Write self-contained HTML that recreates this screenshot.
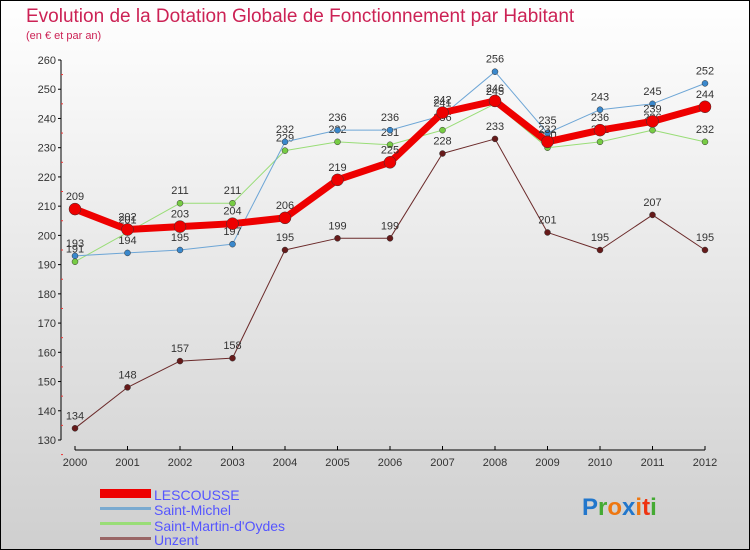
<!DOCTYPE html>
<html><head><meta charset="utf-8"><style>
body{margin:0}
#c{width:750px;height:550px;position:relative;overflow:hidden;font-family:"Liberation Sans",sans-serif}
</style></head><body>
<div id="c">
<svg id="s" width="750" height="550" xmlns="http://www.w3.org/2000/svg">
<defs><linearGradient id="bg" x1="0" y1="0" x2="0" y2="1"><stop offset="0" stop-color="#ffffff"/><stop offset="1" stop-color="#cfcfcf"/></linearGradient></defs>
<rect x="0.5" y="0.5" width="749" height="549" fill="url(#bg)" stroke="#000"/>
<text x="26" y="22" font-size="19" fill="#cc2255">Evolution de la Dotation Globale de Fonctionnement par Habitant</text>
<text x="26" y="39" font-size="11" fill="#cc2255">(en € et par an)</text>
<g id="axes"></g><g id="series"></g>
<g>
<rect x="100" y="489" width="51" height="9" fill="#ee0000"/>
<text x="154" y="500" font-size="14" fill="#5555ff">LESCOUSSE</text>
<rect x="100" y="507" width="51" height="3" fill="#7aaad0"/>
<text x="154" y="515" font-size="14" fill="#5555ff">Saint-Michel</text>
<rect x="100" y="522" width="51" height="3" fill="#99dd77"/>
<text x="154" y="531" font-size="14" fill="#5555ff">Saint-Martin-d'Oydes</text>
<rect x="100" y="537" width="51" height="3" fill="#996666"/>
<text x="154" y="545" font-size="14" fill="#5555ff">Unzent</text>
</g>
<text x="582" y="515" font-size="24" font-weight="bold"><tspan fill="#2277cc">P</tspan><tspan fill="#44aa33">r</tspan><tspan fill="#ee7711">o</tspan><tspan fill="#2277cc">x</tspan><tspan fill="#ee7711">i</tspan><tspan fill="#ee3311">t</tspan><tspan fill="#44aa33">i</tspan></text>
</svg>
</div>
<script>
const years=[2000,2001,2002,2003,2004,2005,2006,2007,2008,2009,2010,2011,2012];
const yTicks=[130,140,150,160,170,180,190,200,210,220,230,240,250,260];
const lescousse=[209,202,203,204,206,219,225,242,246,232,236,239,244];
const saintMichel=[193,194,195,197,232,236,236,241,256,235,243,245,252];
const saintMartin=[191,201,211,211,229,232,231,236,245,230,232,236,232];
const unzent=[134,148,157,158,195,199,199,228,233,201,195,207,195];
const NS="http://www.w3.org/2000/svg";
const xs=i=>75+i*52.5;
const ys=v=>440-(v-130)*(380/130);
function mk(tag,at,parent){const e=document.createElementNS(NS,tag);for(const k in at)e.setAttribute(k,at[k]);parent.appendChild(e);return e;}
const ax=document.getElementById('axes');
let yl=mk('line',{x1:61,y1:60,x2:61,y2:440,stroke:'#000'},ax);


yTicks.forEach(t=>{const y=ys(t);
mk('line',{x1:58,y1:y,x2:61,y2:y,stroke:'#000'},ax);
mk('line',{x1:61,y1:y+14.6,x2:63,y2:y+14.6,stroke:'#e33'},ax);
const tx=mk('text',{x:56,y:y+4,'font-size':11,'text-anchor':'end',fill:'#333'},ax);tx.textContent=t;

});
let xl=mk('line',{x1:75,y1:450,x2:705,y2:450,stroke:'#000'},ax);


years.forEach((yr,i)=>{const x=xs(i);
mk('line',{x1:x,y1:446,x2:x,y2:450,stroke:'#000'},ax);
const tx=mk('text',{x:x,y:466,'font-size':11,'text-anchor':'middle',fill:'#333'},ax);tx.textContent=yr;

});
const sg=document.getElementById('series');
function draw(data,name,color,dot,w,r){
const g=mk('g',{},sg);


const pl=mk('polyline',{points:data.map((v,i)=>xs(i)+','+ys(v)).join(' '),fill:'none',stroke:color,'stroke-width':w,'stroke-linejoin':'round'},g);


data.forEach((v,i)=>{
const c=mk('circle',{cx:xs(i),cy:ys(v),r:r,fill:dot,stroke:'#333','stroke-width':0.5},g);


const t=mk('text',{x:xs(i),y:ys(v)-9,'font-size':11,'text-anchor':'middle',fill:'#333'},g);t.textContent=v;

});}
draw(unzent,'unzent','#6b2a2a','#661a1a',1,3);
draw(saintMartin,'saint-martin','#99dd77','#77cc44',1,3);
draw(saintMichel,'saint-michel','#6ea6d6','#3a88cc',1,3);
draw(lescousse,'lescousse','#ee0000','#ee0000',7,6);
</script>
</body></html>
